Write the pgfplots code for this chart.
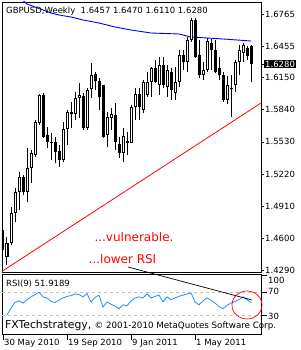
\documentclass[border=0pt]{standalone}
\usepackage{pgfplots}
\pgfplotsset{compat=1.18}
\usepackage{pgfplotstable}
\usepackage{fontspec}
\setmainfont{DejaVu Sans}
\definecolor{dodger}{RGB}{30,144,255}
\definecolor{rsigrid}{RGB}{192,192,192}

\pgfplotstableread{
i o h l c
1 1.44184 1.46115 1.43411 1.45537
2 1.45537 1.49012 1.45343 1.48433
3 1.48433 1.50847 1.47563 1.50460
4 1.50460 1.52392 1.48722 1.51909
6 1.50460 1.54710 1.49495 1.52778
7 1.52778 1.54517 1.51330 1.54227
8 1.54034 1.57413 1.53840 1.57220
9 1.57124 1.59924 1.56931 1.59828
15 1.53551 1.57220 1.53358 1.56544
16 1.56544 1.58379 1.54999 1.58186
18 1.57993 1.60118 1.57413 1.59538
19 1.59538 1.60987 1.57607 1.59828
21 1.56641 1.60504 1.56448 1.60311
22 1.60407 1.62918 1.59538 1.61759
26 1.55965 1.58186 1.54806 1.57703
27 1.57607 1.58572 1.56448 1.57993
30 1.54227 1.56641 1.53358 1.55868
32 1.55192 1.58862 1.55192 1.58669
33 1.58669 1.60504 1.57413 1.59924
35 1.58379 1.61276 1.58089 1.61083
36 1.59828 1.62049 1.59635 1.61083
37 1.61083 1.62532 1.59635 1.62435
39 1.60794 1.63498 1.59828 1.62725
41 1.60600 1.62725 1.59635 1.62242
43 1.60021 1.62532 1.59345 1.61083
44 1.61083 1.64174 1.60600 1.63691
46 1.63015 1.65429 1.62049 1.65139
47 1.65139 1.67264 1.64946 1.67071
50 1.61759 1.63015 1.61276 1.62242
51 1.62242 1.65332 1.62049 1.65043
56 1.59345 1.61663 1.58959 1.60794
58 1.60794 1.63208 1.60118 1.63015
59 1.63015 1.64656 1.61759 1.64174
60 1.63884 1.64849 1.63015 1.64656
}\whitecandles

\pgfplotstableread{
i o h l c
0 1.46791 1.47563 1.44184 1.44860
5 1.51909 1.52102 1.50171 1.50460
10 1.59828 1.60021 1.55675 1.55772
11 1.55965 1.56737 1.54710 1.55289
12 1.55289 1.56158 1.53551 1.55189
13 1.55289 1.55772 1.53261 1.54323
14 1.54420 1.54999 1.52875 1.53551
17 1.58186 1.59152 1.56641 1.57993
20 1.59731 1.60021 1.56448 1.56641
23 1.61856 1.62049 1.60311 1.61180
24 1.61180 1.61470 1.58379 1.59635
25 1.60794 1.60794 1.55675 1.55772
28 1.57896 1.59055 1.54517 1.55289
29 1.55096 1.55772 1.53744 1.54227
31 1.55385 1.56255 1.54034 1.55192
34 1.59924 1.60504 1.57413 1.58669
38 1.62435 1.63208 1.60987 1.61083
40 1.62725 1.63498 1.60504 1.60794
42 1.62049 1.62435 1.59345 1.60311
45 1.63691 1.64174 1.62242 1.63015
48 1.67071 1.67264 1.63401 1.63498
49 1.63691 1.65139 1.61470 1.61759
52 1.64849 1.65236 1.62242 1.64174
53 1.64174 1.65139 1.61952 1.62049
54 1.62435 1.63498 1.61276 1.61759
55 1.61759 1.62049 1.59152 1.59345
57 1.60504 1.61759 1.57703 1.60407
61 1.64367 1.64560 1.63208 1.63594
62 1.6457 1.6470 1.6110 1.6280
}\blackcandles

\begin{document}
\begin{tikzpicture}[font=\fontsize{8.5}{10}\selectfont]
\path[use as bounding box] (0,0) rectangle (300pt,350pt);
\fill[white] (0,0) rectangle (300pt,350pt);

% ---------------- main price pane ----------------
\begin{axis}[
  at={(2pt,78pt)}, anchor=south west, scale only axis,
  width=259pt, height=270pt,
  xmin=-0.25, xmax=64.5, ymin=1.42735, ymax=1.68809,
  axis line style={black, line width=0.8pt},
  xtick=\empty,
  ytick={1.4290,1.4600,1.4910,1.5220,1.5530,1.5840,1.6150,1.6455,1.6765},
  yticklabels={1.4290,1.4600,1.4910,1.5220,1.5530,1.5840,1.6150,1.6455,1.6765},
  ytick pos=right, yticklabel pos=right,
  tick align=outside, major tick length=3pt,
  tick style={black, line width=0.6pt},
  yticklabel style={anchor=west, font=\fontsize{8.5}{10}\selectfont, inner sep=1pt},
  extra y ticks={1.6280}, extra y tick labels={1.6280},
  extra y tick style={yticklabel style={fill=black, text=white, inner sep=1pt}},
  /pgf/number format/assume math mode=true,
  clip=true,
]
% trend line
\addplot[red, line width=0.8pt, forget plot] coordinates {(-0.5,1.42735) (64.5,1.59055)};
% moving average
\addplot[blue, line width=0.9pt, forget plot] coordinates {
(4,1.69292) (6,1.68616) (8,1.68326) (10,1.68036) (12,1.67747) (14,1.67553)
(17,1.67360) (20,1.67071) (24,1.66781) (28,1.66395) (32,1.66105) (37,1.65815)
(44,1.65719) (47,1.65429) (55,1.65236) (62,1.65043)};
% wicks
\addplot[black, line width=1pt, quiver={u=0, v=\thisrow{h}-\thisrow{l}}, forget plot] table[x=i, y=l] {\whitecandles};
\addplot[black, line width=1pt, quiver={u=0, v=\thisrow{h}-\thisrow{l}}, forget plot] table[x=i, y=l] {\blackcandles};
% black bodies
\addplot[black, line width=3pt, quiver={u=0, v={max(\thisrow{o}-\thisrow{c},0.001)}}, forget plot] table[x=i, y=c] {\blackcandles};
% white bodies: outline + white interior
\addplot[black, line width=3pt, quiver={u=0, v=\thisrow{c}-\thisrow{o}}, forget plot] table[x=i, y=o] {\whitecandles};
\addplot[white, line width=1pt, quiver={u=0, v={max(\thisrow{c}-\thisrow{o}-0.0019,0)}}, forget plot] table[x=i, y expr=\thisrow{o}+0.00095] {\whitecandles};
\end{axis}

% ---------------- RSI pane ----------------
\begin{axis}[
  at={(2pt,16pt)}, anchor=south west, scale only axis,
  width=259pt, height=60pt,
  xmin=-0.25, xmax=64.5, ymin=-3.5, ymax=102.3,
  axis line style={black, line width=0.8pt},
  xtick={0,16,32,48},
  xticklabels={30 May 2010,19 Sep 2010,9 Jan 2011,1 May 2011},
  xtick pos=bottom,
  ytick={30,70,100},
  yticklabels={\raisebox{-4.5pt}[0pt][0pt]{30},\raisebox{-2.5pt}[0pt][0pt]{70},\raisebox{-8pt}[0pt][0pt]{100}},
  ytick pos=right, yticklabel pos=right,
  tick align=outside, major tick length=6pt,
  tick style={black, line width=0.6pt},
  xticklabel style={anchor=west, yshift=-3.5pt, xshift=0pt, inner sep=1pt},
  yticklabel style={anchor=west, inner sep=1pt},
  clip=true,
]
\addplot[rsigrid, dashed, line width=0.6pt, forget plot] coordinates {(-0.25,70) (64.5,70)};
\addplot[rsigrid, dashed, line width=0.6pt, forget plot] coordinates {(-0.25,30) (64.5,30)};
\addplot[dodger, line width=0.8pt, forget plot] coordinates {
(1,30) (2,42) (3,52) (4,55) (5,51) (6,57) (7,62) (8,66) (9,70) (10,62)
(11,60) (12,54) (13,52) (14,56) (15,60) (16,63) (17,64) (18,67) (19,66) (20,62)
(21,68) (22,53) (23,61) (24,65) (25,44) (26,53) (27,49) (28,46) (29,41) (30,48)
(31,46) (32,55) (33,60) (34,62) (35,60) (36,67) (37,60) (38,63) (39,65) (40,53)
(41,62) (42,57) (43,60) (44,63) (45,65) (46,67) (47,69) (48,53) (49,48) (50,55)
(51,60) (52,56) (53,51) (54,45) (55,41) (56,47) (57,51) (58,54) (59,57) (60,62)
(61,57) (62,51.92)};
\end{axis}

% ---------------- texts & annotations ----------------
\node[anchor=west, inner sep=0pt] at (6pt,339pt) {GBPUSD,Weekly\ \ 1.6457 1.6470 1.6110 1.6280};
\node[anchor=west, inner sep=0pt] at (6pt,66pt) {RSI(9) 51.9189};
\node[anchor=base west, inner sep=0pt] at (5pt,21pt) {\fontsize{10.8}{12}\selectfont FXTechstrategy,\ \fontsize{8.7}{10}\selectfont © 2001-2010 MetaQuotes Software Corp.};
\node[red, inner sep=0pt] at (134pt,113pt) {\fontsize{12}{14}\selectfont ...vulnerable.};
\node[red, inner sep=0pt] at (122.5pt,91pt) {\fontsize{12}{14}\selectfont ...lower RSI};
\draw[black, line width=0.7pt] (128pt,83pt) -- (252pt,50pt);
\draw[red, line width=0.7pt] (247pt,45pt) ellipse [x radius=15pt, y radius=14pt];
\end{tikzpicture}
\end{document}
